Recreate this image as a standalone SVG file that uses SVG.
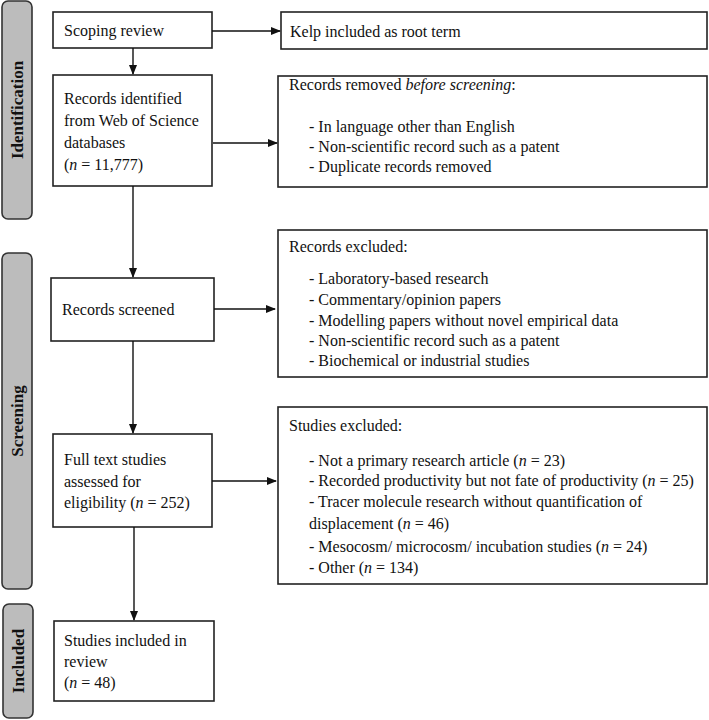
<svg xmlns="http://www.w3.org/2000/svg" width="709" height="720" viewBox="0 0 709 720">
<defs>
<marker id="arr" markerWidth="10" markerHeight="8" refX="9" refY="4" orient="auto" markerUnits="userSpaceOnUse">
<path d="M0,0 L10,4 L0,8 Z" fill="#111"/>
</marker>
<style>
.side{fill:#bcbcbc;stroke:#333;stroke-width:1.6}
.box{fill:#fff;stroke:#222;stroke-width:1.6}
.t{font-family:"Liberation Serif","Times New Roman",serif;font-size:16px;fill:#111}
.st{font-family:"Liberation Serif","Times New Roman",serif;font-size:17px;font-weight:bold;fill:#111}
.c{stroke:#111;stroke-width:1.4;fill:none;marker-end:url(#arr)}
</style>
</defs>
<rect width="709" height="720" fill="#fff"/>

<g id="phase-identification">
<rect class="side" x="2" y="1" width="30" height="218" rx="6"/>
<text class="st" transform="translate(23,110) rotate(-90)" text-anchor="middle">Identification</text>
</g>
<g id="phase-screening">
<rect class="side" x="2" y="253" width="30" height="336" rx="6"/>
<text class="st" transform="translate(23,421) rotate(-90)" text-anchor="middle">Screening</text>
</g>
<g id="phase-included">
<rect class="side" x="3" y="604" width="30" height="114" rx="6"/>
<text class="st" transform="translate(24,661) rotate(-90)" text-anchor="middle">Included</text>
</g>

<g id="scoping">
<rect class="box" x="53" y="12" width="159" height="36"/>
<text class="t" x="64" y="36">Scoping review</text>
</g>
<g id="kelp">
<rect class="box" x="281" y="12" width="426" height="37"/>
<text class="t" x="290" y="37">Kelp included as root term</text>
</g>
<g id="identified">
<rect class="box" x="53" y="75" width="159" height="111"/>
<text class="t" x="64" y="104">Records identified</text>
<text class="t" x="64" y="126">from Web of Science</text>
<text class="t" x="64" y="148">databases</text>
<text class="t" x="64" y="170">(<tspan font-style="italic">n</tspan> = 11,777)</text>
</g>
<g id="removed">
<rect class="box" x="278" y="76" width="429" height="111"/>
<text class="t" x="289" y="90">Records removed <tspan font-style="italic">before screening</tspan>:</text>
<text class="t" x="309" y="132">- In language other than English</text>
<text class="t" x="309" y="152">- Non-scientific record such as a patent</text>
<text class="t" x="309" y="172">- Duplicate records removed</text>
</g>
<g id="screened">
<rect class="box" x="51" y="278" width="163" height="63"/>
<text class="t" x="62" y="315">Records screened</text>
</g>
<g id="excluded">
<rect class="box" x="278" y="230" width="429" height="147"/>
<text class="t" x="289" y="252">Records excluded:</text>
<text class="t" x="309" y="284">- Laboratory-based research</text>
<text class="t" x="309" y="305">- Commentary/opinion papers</text>
<text class="t" x="309" y="326">- Modelling papers without novel empirical data</text>
<text class="t" x="309" y="346">- Non-scientific record such as a patent</text>
<text class="t" x="309" y="366">- Biochemical or industrial studies</text>
</g>
<g id="fulltext">
<rect class="box" x="53" y="434" width="159" height="93"/>
<text class="t" x="64" y="465">Full text studies</text>
<text class="t" x="64" y="487">assessed for</text>
<text class="t" x="64" y="508">eligibility  (<tspan font-style="italic">n</tspan> = 252)</text>
</g>
<g id="studies-excluded">
<rect class="box" x="278" y="407" width="429" height="177"/>
<text class="t" x="289" y="431">Studies excluded:</text>
<text class="t" x="309" y="466">- Not a primary research article (<tspan font-style="italic">n</tspan> = 23)</text>
<text class="t" x="309" y="486">- Recorded productivity but not fate of productivity  (<tspan font-style="italic">n</tspan> = 25)</text>
<text class="t" x="309" y="507">- Tracer molecule research without quantification of</text>
<text class="t" x="309" y="529">displacement (<tspan font-style="italic">n</tspan> = 46)</text>
<text class="t" x="309" y="552">- Mesocosm/ microcosm/ incubation studies (<tspan font-style="italic">n</tspan> = 24)</text>
<text class="t" x="309" y="573">- Other (<tspan font-style="italic">n</tspan> = 134)</text>
</g>
<g id="included">
<rect class="box" x="54" y="621" width="160" height="80"/>
<text class="t" x="64" y="646">Studies included in</text>
<text class="t" x="64" y="667">review</text>
<text class="t" x="64" y="688">(<tspan font-style="italic">n</tspan> = 48)</text>
</g>

<g id="connectors">
<line class="c" x1="212" y1="31" x2="280" y2="31"/>
<line class="c" x1="133" y1="48" x2="133" y2="74"/>
<line class="c" x1="213" y1="143" x2="277" y2="143"/>
<line class="c" x1="133" y1="186" x2="133" y2="277"/>
<line class="c" x1="214" y1="309" x2="275" y2="309"/>
<line class="c" x1="133" y1="341" x2="133" y2="433"/>
<line class="c" x1="212" y1="481" x2="276" y2="481"/>
<line class="c" x1="134" y1="527" x2="134" y2="620"/>
</g>
</svg>
